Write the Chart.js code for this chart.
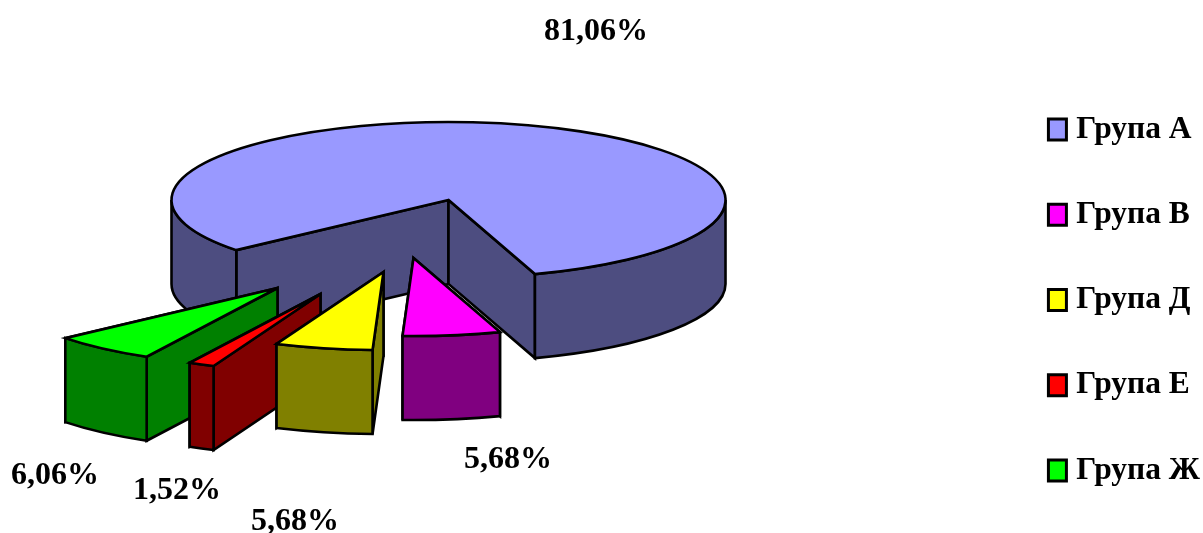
<!DOCTYPE html>
<html>
<head>
<meta charset="utf-8">
<style>
html,body{margin:0;padding:0;background:#fff;overflow:hidden}
#wrap{width:1203px;height:533px;position:relative}
</style>
<script src="https://cdn.jsdelivr.net/npm/chart.js@4"></script>
</head>
<body>
<div id="wrap"><canvas id="c" width="1203" height="533"></canvas></div>
<script>
const categories = ['Група А','Група В','Група Д','Група Е','Група Ж'];
const values = [81.06, 5.68, 5.68, 1.52, 6.06];
const topColors = ['#9999FF','#FF00FF','#FFFF00','#FF0000','#00FF00'];
const sideColors = ['#4D4D80','#800080','#808000','#800000','#008000'];

// Projection of the pie: squashed ellipse, extrusion depth, and how each slice is pulled out.
const VIEW = {cx:448.5, cy:200, squash:0.2816, depth:84, line:2.6};
const EXPLODE = [[0,0],[-35,58],[-65,72],[-128,94],[-171,88]];
const PAINT_ORDER = [0,4,3,2,1];
const LABEL_AT = [[596,32],[508,460],[295,522],[177,491],[55,476]];
const FONT = '"Liberation Serif","Times New Roman",serif';
const TAU = Math.PI*2;

function visibleRanges(a0,a1){
  const out=[];
  for(let k=-1;k<=2;k++){
    const lo=Math.max(a0,k*TAU), hi=Math.min(a1,k*TAU+Math.PI);
    if(hi>lo) out.push([lo,hi]);
  }
  return out;
}

const pie3d = {
  id:'pie3d',
  beforeDraw(chart){
    const lg=chart.legend;
    if(lg && !lg._wrapped){
      lg._wrapped=true;
      const orig=lg._draw;
      lg._draw=function(){
        const c=this.ctx, ft=c.fillText;
        c.fillText=function(t,x,y,m){ if(m===undefined) ft.call(c,t,x-6,y); else ft.call(c,t,x-6,y,m); };
        orig.call(this);
        delete c.fillText;
      };
    }
  },
  beforeDatasetsDraw(chart){
    const ctx=chart.ctx, arcs=chart.getDatasetMeta(0).data;
    const {squash:k,depth:d,line}=VIEW;
    PAINT_ORDER.forEach(i=>{
      const arc=arcs[i];
      const R=arc.outerRadius, a0=arc.startAngle, a1=arc.endAngle;
      const cx=VIEW.cx+EXPLODE[i][0], cy=VIEW.cy+EXPLODE[i][1];
      const pt=a=>[cx+R*Math.cos(a), cy+R*k*Math.sin(a)];
      ctx.save();
      ctx.lineWidth=line; ctx.strokeStyle='#000'; ctx.lineJoin='miter'; ctx.miterLimit=6;
      ctx.fillStyle=sideColors[i];
      // cut walls, further one first
      [a0,a1].sort((p,q)=>pt(p)[1]-pt(q)[1]).forEach(a=>{
        const p=pt(a);
        ctx.beginPath();
        ctx.moveTo(cx,cy); ctx.lineTo(p[0],p[1]); ctx.lineTo(p[0],p[1]+d); ctx.lineTo(cx,cy+d);
        ctx.closePath(); ctx.fill(); ctx.stroke();
      });
      // rim
      visibleRanges(a0,a1).forEach(([lo,hi])=>{
        ctx.beginPath();
        ctx.ellipse(cx,cy,R,R*k,0,lo,hi);
        ctx.ellipse(cx,cy+d,R,R*k,0,hi,lo,true);
        ctx.closePath(); ctx.fill(); ctx.stroke();
      });
      // top face: the library's own arc, projected
      ctx.save();
      ctx.translate(cx,cy); ctx.scale(1,k); ctx.translate(-arc.x,-arc.y);
      arc.draw(ctx);
      ctx.restore();
      ctx.beginPath();
      ctx.moveTo(cx,cy);
      ctx.ellipse(cx,cy,R,R*k,0,a0,a1);
      ctx.closePath(); ctx.stroke();
      ctx.restore();
    });
    ctx.save();
    ctx.fillStyle='#000'; ctx.font='bold 32px '+FONT; ctx.textAlign='center'; ctx.textBaseline='middle';
    values.forEach((v,i)=>{
      ctx.fillText(v.toFixed(2).replace('.',',')+'%',LABEL_AT[i][0],LABEL_AT[i][1]);
    });
    ctx.restore();
    return false;
  }
};

new Chart(document.getElementById('c'),{
  type:'pie',
  plugins:[pie3d],
  data:{labels:categories,datasets:[{data:values,backgroundColor:topColors,borderWidth:0}]},
  options:{
    responsive:false,animation:false,
    rotation:230,radius:277,
    layout:{padding:{top:47,bottom:-20,right:-13}},
    plugins:{
      tooltip:{enabled:false},
      legend:{position:'right',labels:{
        boxWidth:18,boxHeight:21,padding:53.8,color:'#000',
        font:{family:FONT,size:31.5,weight:'bold'},
        generateLabels:()=>categories.map((t,i)=>({text:t,fillStyle:topColors[i],strokeStyle:'#000',lineWidth:3,hidden:false,index:i}))
      }}
    }
  }
});
</script>
</body>
</html>
